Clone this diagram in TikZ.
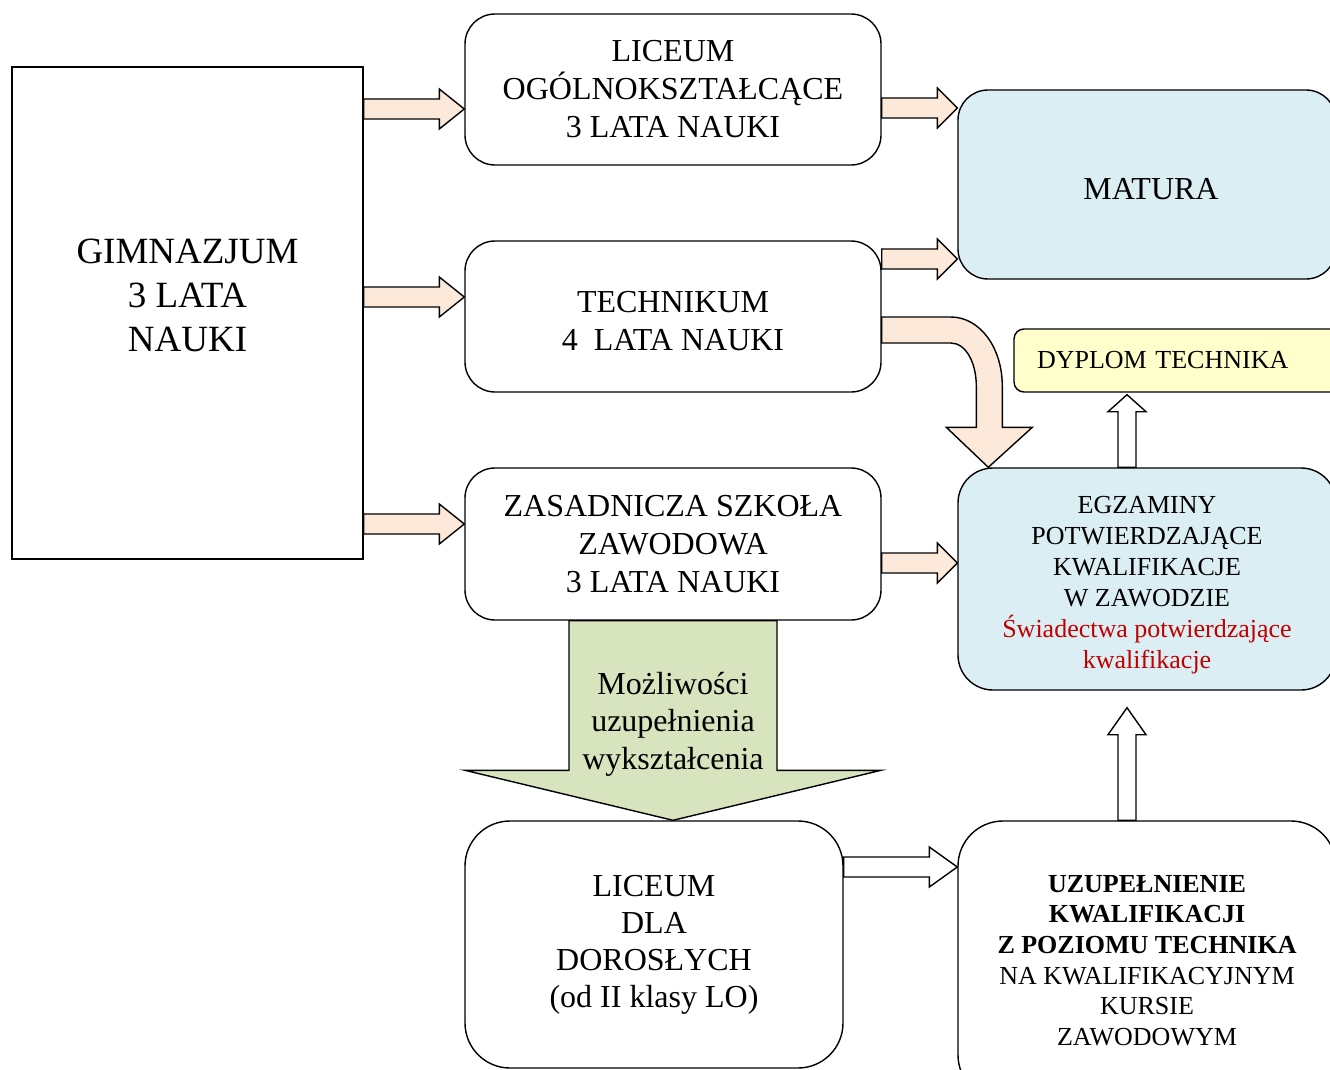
\documentclass[tikz,border=0pt]{standalone}
\usepackage{fontspec}
\setmainfont{Liberation Serif}
\usetikzlibrary{calc}

\definecolor{peach}{HTML}{FDE9D9}
\definecolor{paleblue}{HTML}{DAEEF3}
\definecolor{paleyellow}{HTML}{FFFFCC}
\definecolor{palegreen}{HTML}{D7E4BD}
\definecolor{darkred}{HTML}{C00000}

% block arrow to the right: fill, from, to, head length
\newcommand{\harrow}[4]{%
\draw[fill=#1] ($(#2)+(0,-10)$) -- ($(#3)+(-#4,-10)$) -- ($(#3)+(-#4,-20)$) -- (#3)
  -- ($(#3)+(-#4,20)$) -- ($(#3)+(-#4,10)$) -- ($(#2)+(0,10)$) -- cycle;}
% block arrow upwards: fill, from, to, head length
\newcommand{\varrow}[4]{%
\draw[fill=#1] ($(#2)+(-9,0)$) -- ($(#3)+(-9,#4)$) -- ($(#3)+(-19,#4)$) -- (#3)
  -- ($(#3)+(19,#4)$) -- ($(#3)+(9,#4)$) -- ($(#2)+(9,0)$) -- cycle;}

\begin{document}
\begin{tikzpicture}[x=1pt,y=-1pt,line width=1.4pt,
  box/.style={draw,rounded corners=30pt,align=center,inner sep=0pt,font=\fontsize{32}{38}\selectfont},
  small/.style={font=\fontsize{26}{31}\selectfont}]
\useasboundingbox (0,0) rectangle (1330,1070);

\node[box,rounded corners=0pt,minimum width=351pt,minimum height=492pt,text depth=36pt,
  font=\fontsize{37}{44}\selectfont] (gim) at (187.5,313) {GIMNAZJUM\\3 LATA\\NAUKI};
\node[box,minimum width=416pt,minimum height=151pt] (lo) at (673,89.5) {LICEUM\\OGÓLNOKSZTAŁCĄCE\\3 LATA NAUKI};
\node[box,minimum width=416pt,minimum height=151pt] (tech) at (673,316.5) {\rule{0pt}{31pt}TECHNIKUM\\4\ \ LATA NAUKI};
\node[box,minimum width=416pt,minimum height=152pt] (zas) at (673,544) {ZASADNICZA SZKOŁA\\ZAWODOWA\\3 LATA NAUKI};

\node[box,fill=paleblue,minimum width=378pt,minimum height=189pt] (mat) at (1147,184.5) {\rule{0pt}{31pt}\hspace{8pt}MATURA};
\node[box,small,fill=paleyellow,rounded corners=10pt,minimum width=326pt,minimum height=63pt,
  text width=280pt,align=left,inner xsep=23pt] (dyp) at (1177,360.5) {DYPLOM TECHNIKA};
\node[box,small,fill=paleblue,rounded corners=35pt,minimum width=378pt,minimum height=222pt] (egz) at (1147,579)
  {\rule{0pt}{29pt}EGZAMINY\\POTWIERDZAJĄCE\\KWALIFIKACJE\\W ZAWODZIE\\{\color{darkred}Świadectwa potwierdzające}\\{\color{darkred}kwalifikacje}};

\node[box,rounded corners=45pt,minimum width=378pt,minimum height=247pt,font=\fontsize{32}{37}\selectfont] (lld) at (654,944.5)
  {LICEUM\\DLA\\DOROSŁYCH\\(od II klasy LO)};
\node[box,rounded corners=45pt,minimum width=378pt,minimum height=279pt,font=\fontsize{26}{30.6}\selectfont] (uzup) at (1147,960.5)
  {\textbf{UZUPEŁNIENIE}\\\textbf{KWALIFIKACJI}\\\textbf{Z POZIOMU TECHNIKA}\\NA KWALIFIKACYJNYM\\KURSIE\\ZAWODOWYM};

% gimnazjum -> szkoly
\foreach \y in {109,297,524}{
  \path (gim.east |- 0,\y) coordinate (s) (lo.west |- 0,\y) coordinate (t);
  \harrow{peach}{s}{t}{25}
}

% szkoly -> matura / egzaminy
\path (lo.east |- 0,108) coordinate (s) (mat.west |- 0,108) coordinate (t);
\harrow{peach}{s}{t}{20}
\path (tech.east |- 0,259) coordinate (s) (mat.west |- 0,259) coordinate (t);
\harrow{peach}{s}{t}{20}
\path (zas.east |- 0,563) coordinate (s) (egz.west |- 0,563) coordinate (t);
\harrow{peach}{s}{t}{20}
\path (lld.east |- 0,867) coordinate (s) (uzup.west |- 0,867) coordinate (t);
\harrow{white}{s}{t}{28}

% technikum -> egzaminy
\coordinate (cs) at ($(tech.east)+(0,13.5)$);
\coordinate (ct) at ($(egz.north west)+(31,0)$);
\draw[fill=peach] ($(cs)+(0,-13)$) -- ($(cs)+(69,-13)$)
  .. controls ($(cs)+(98,-13)$) and ($(ct)+(14,-120)$) .. ($(ct)+(14,-81)$)
  -- ($(ct)+(14,-40)$) -- ($(ct)+(44,-40)$) -- (ct) -- ($(ct)+(-42,-40)$) -- ($(ct)+(-12,-40)$)
  -- ($(ct)+(-12,-81)$) .. controls ($(ct)+(-12,-105)$) and ($(cs)+(84,13)$) .. ($(cs)+(69,13)$)
  -- ($(cs)+(0,13)$) -- cycle;

% w gore
\coordinate (us) at ($(uzup.north)+(-20,0)$);
\coordinate (ut) at ($(egz.south)+(-20,17)$);
\varrow{white}{us}{ut}{27}
\coordinate (es) at ($(egz.north)+(-20,0)$);
\coordinate (et) at ($(dyp.south)+(-50,2)$);
\varrow{white}{es}{et}{17}

% zasadnicza -> liceum dla doroslych
\coordinate (gs) at (zas.south);
\coordinate (gt) at (zas.south |- lld.north);
\draw[fill=palegreen] ($(gs)+(-104,0)$) -- ($(gt)+(-104,-50)$) -- ($(gt)+(-208,-50)$) -- (gt)
  -- ($(gt)+(208,-50)$) -- ($(gt)+(104,-50)$) -- ($(gs)+(104,0)$) -- cycle;
\node[align=center,inner sep=0pt,font=\fontsize{32}{37.5}\selectfont] (mozl) at (673,724)
  {Możliwości\\uzupełnienia\\wykształcenia};
\end{tikzpicture}
\end{document}
